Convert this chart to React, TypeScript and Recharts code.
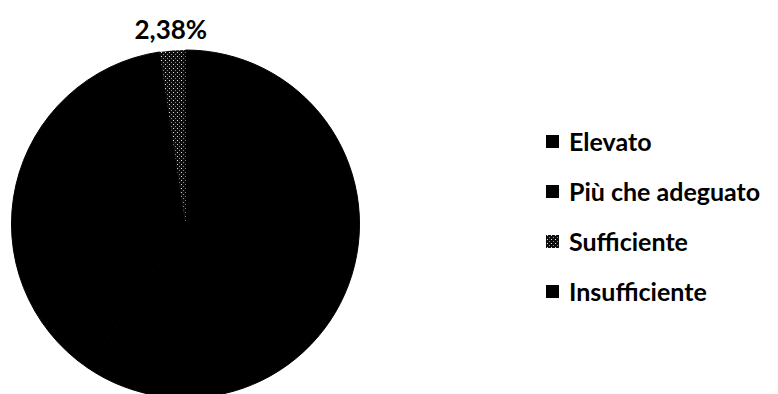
import * as React from 'react';
import { Cell, Legend, Pie, PieChart } from 'recharts';

// livelli di valutazione (42 studenti)
const categories = ['Elevato', 'Più che adeguato', 'Sufficiente', 'Insufficiente'];
const percentages = [59.52, 38.1, 2.38, 0];
const colors = ['#000000', '#000000', 'url(#speckle)', '#000000'];
const shownLabels = ['Sufficiente'];

const FONT = 'Lato, "Open Sans", sans-serif';

const chartData = categories.map((name, i) => ({ name, value: percentages[i] }));

function renderLabel(props: any) {
  const { cx, cy, midAngle, outerRadius, index } = props;
  const item = chartData[index];
  if (!shownLabels.includes(item.name)) return null;
  const RAD = Math.PI / 180;
  const r = outerRadius + 22;
  const x = cx + r * Math.cos(-midAngle * RAD);
  const y = cy + r * Math.sin(-midAngle * RAD);
  return (
    <text
      x={x}
      y={y}
      textAnchor="middle"
      dominantBaseline="central"
      fontFamily={FONT}
      fontWeight={700}
      fontSize={26}
      fill="#000"
    >
      {item.value.toFixed(2).replace('.', ',')}%
    </text>
  );
}

function LegendList() {
  return (
    <div style={{ fontFamily: FONT, fontWeight: 700, fontSize: 25, color: '#000' }}>
      {chartData.map((d, i) => (
        <div key={d.name} style={{ display: 'flex', alignItems: 'center', height: 50 }}>
          <svg width={13} height={13} style={{ marginRight: 10 }}>
            <rect width={13} height={13} fill={colors[i]} />
          </svg>
          <span>{d.name}</span>
        </div>
      ))}
    </div>
  );
}

export default function App() {
  return (
    <div style={{ width: 778, height: 394, position: 'relative', background: '#fff' }}>
      <style>{`body{margin:0}`}</style>
      <svg width={0} height={0} style={{ position: 'absolute' }}>
        <defs>
          <pattern id="speckle" width={4} height={4} patternUnits="userSpaceOnUse">
            <rect width={4} height={4} fill="#0d0d0d" />
            <rect x={1} y={0} width={1} height={1} fill="#e0e0e0" />
            <rect x={3} y={2} width={1} height={1} fill="#888888" />
          </pattern>
        </defs>
      </svg>
      <PieChart width={778} height={394} margin={{ top: 0, right: 0, bottom: 0, left: 0 }}>
        <Pie
          data={chartData}
          dataKey="value"
          nameKey="name"
          cx={185.5}
          cy={224}
          outerRadius={174}
          startAngle={90}
          endAngle={-270}
          label={renderLabel}
          labelLine={false}
          isAnimationActive={false}
        >
          {chartData.map((d, i) => (
            <Cell
              key={d.name}
              fill={colors[i]}
              stroke={d.name === 'Sufficiente' ? 'none' : '#000000'}
              strokeWidth={1}
            />
          ))}
        </Pie>
        <Legend
          layout="vertical"
          content={() => <LegendList />}
          wrapperStyle={{ left: 546, top: 116, width: 232 }}
        />
      </PieChart>
    </div>
  );
}
